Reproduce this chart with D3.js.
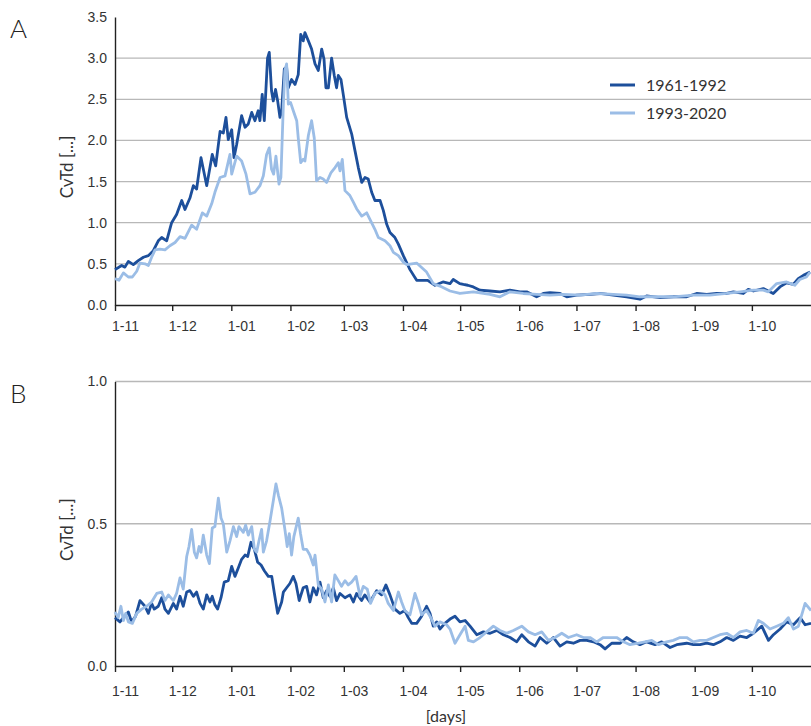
<!DOCTYPE html>
<html>
<head>
<meta charset="utf-8">
<title>CvTd</title>
<script src="https://d3js.org/d3.v7.min.js"></script>
<style>
    body { margin: 0; background: white; }
    svg { display: block; font-family: Lato, "Open Sans", sans-serif; }
    .tick text { fill: #333; font-size: 14px; }
    .grid line { stroke: #b8b8b8; stroke-width: 1.3; }
</style>
</head>
<body>
<svg width="811" height="726"></svg>
<script>
// day of season (0 = 1 November), value
var monthDays = [0, 30, 61, 92, 120, 151, 181, 212, 242, 273, 304, 334];
var monthLabels = ["1-11", "1-12", "1-01", "1-02", "1-03", "1-04", "1-05", "1-06", "1-07", "1-08", "1-09", "1-10"];
var seriesNames = ["1961-1992", "1993-2020"];
var ticksA = [0, 0.5, 1, 1.5, 2, 2.5, 3, 3.5];
var ticksB = [0, 0.5, 1];

var darkA = [[0,0.43],[3.5,0.48],[5.2,0.46],[7,0.53],[9.6,0.49],[12.2,0.54],[14.9,0.58],[17.5,0.6],[20.1,0.66],[22.7,0.78],[24.5,0.82],[27.1,0.78],[29.7,1.0],[32.3,1.1],[35,1.27],[36.7,1.16],[39.3,1.3],[41.1,1.45],[42.8,1.41],[45.1,1.79],[48.1,1.45],[51,1.83],[52.8,1.69],[55.1,2.11],[56.8,2.09],[58.2,2.28],[59.4,2.01],[61.2,2.13],[62.4,1.79],[63.8,1.95],[66.4,2.3],[68.2,2.16],[69.9,2.2],[71.7,2.34],[73.4,2.24],[75.1,2.36],[76,2.24],[77.2,2.56],[78.3,2.24],[80,3.0],[80.9,3.07],[82.1,2.6],[83,2.48],[84.2,2.62],[85.3,2.48],[86.5,2.28],[87.4,2.36],[88.8,2.87],[90,2.89],[90.9,2.64],[92.6,2.74],[94.4,2.68],[96.1,2.8],[97.4,3.29],[98.7,3.21],[99.6,3.31],[101.4,3.21],[103.1,3.11],[104.9,2.93],[106.6,2.85],[108.4,3.11],[109.6,2.99],[110.6,2.64],[111.9,2.64],[113.6,3.0],[115,2.79],[116.2,2.64],[117.1,2.79],[118.5,2.74],[119.7,2.56],[121.5,2.28],[124.1,2.08],[125.9,1.87],[127.6,1.67],[129.4,1.49],[131.1,1.55],[132.8,1.53],[134.6,1.37],[136.3,1.27],[139,1.27],[140.7,1.15],[142.5,0.98],[144.2,0.88],[146.8,0.82],[148.6,0.74],[151.2,0.6],[154.7,0.43],[158.2,0.3],[164,0.3],[167.8,0.24],[172,0.28],[175.7,0.26],[177.4,0.31],[180.8,0.26],[182.7,0.25],[185,0.24],[187.9,0.22],[191.4,0.18],[196.6,0.17],[201.9,0.16],[207.1,0.18],[212.4,0.16],[215.9,0.16],[221.1,0.1],[224.6,0.14],[228.1,0.15],[233.4,0.14],[236.9,0.1],[242.1,0.12],[249.1,0.13],[254.3,0.14],[261.3,0.12],[268.3,0.1],[275.3,0.07],[278.8,0.11],[285.8,0.09],[292.8,0.1],[299.8,0.1],[305,0.14],[310.3,0.13],[315.5,0.14],[320.8,0.14],[324.3,0.16],[329.5,0.14],[332.1,0.19],[334.8,0.17],[340,0.2],[345.2,0.14],[348.7,0.22],[352.2,0.27],[355.7,0.25],[358.3,0.32],[361,0.36],[364.5,0.4]];

var lightA = [[0,0.32],[2.1,0.3],[4.4,0.39],[7,0.34],[9.1,0.34],[11.4,0.41],[13.1,0.51],[15.7,0.5],[17.5,0.48],[19.2,0.58],[21,0.67],[23.6,0.68],[26.2,0.67],[28.8,0.72],[31.5,0.76],[34.1,0.83],[36.7,0.81],[40.2,0.97],[42.8,0.92],[45.8,1.12],[48.1,1.08],[50.7,1.23],[52.4,1.37],[55.1,1.55],[57.7,1.57],[60.3,1.83],[61.2,1.59],[63.8,1.81],[66.4,1.75],[68.7,1.59],[70.8,1.35],[73.4,1.37],[76,1.45],[77.8,1.57],[79.5,1.83],[80.9,1.91],[82.1,1.65],[83.2,1.59],[84.4,1.81],[86,1.47],[87,1.55],[88.3,2.44],[89.1,2.85],[90,2.93],[90.9,2.44],[92.1,2.46],[93.5,2.36],[95.3,2.24],[96.1,2.03],[97.4,1.73],[98.7,1.77],[99.6,1.75],[101.4,2.06],[103.1,2.24],[104.5,2.03],[105.7,1.51],[107.5,1.55],[109.2,1.53],[111,1.49],[113.3,1.61],[115.4,1.67],[117.1,1.73],[118,1.63],[119.2,1.77],[120.6,1.39],[123.2,1.33],[125,1.25],[126.7,1.17],[129.4,1.08],[132,1.12],[133.7,1.04],[136.3,0.92],[138.1,0.82],[141.6,0.78],[144.2,0.72],[146,0.64],[148.6,0.6],[151.2,0.52],[153,0.49],[158.2,0.51],[163.4,0.4],[166.9,0.26],[170.4,0.23],[175.7,0.17],[180.9,0.14],[187.9,0.16],[196.6,0.13],[201.9,0.1],[207.1,0.16],[214.1,0.14],[221.1,0.13],[228.1,0.12],[235.1,0.13],[243.9,0.12],[252.6,0.14],[261.3,0.13],[268.3,0.12],[275.3,0.1],[284,0.1],[292.8,0.1],[303.3,0.12],[312,0.12],[320.8,0.14],[327.8,0.16],[334.8,0.18],[340,0.18],[342.6,0.16],[347,0.26],[352.2,0.28],[356.5,0.24],[359.1,0.31],[362.6,0.34],[364.5,0.4]];

var darkB = [[0,0.17],[2.6,0.155],[4.4,0.17],[7,0.19],[8.7,0.155],[10.8,0.175],[13.1,0.23],[15.7,0.21],[17.5,0.185],[19.2,0.22],[20.6,0.2],[22.7,0.21],[24.5,0.24],[26.2,0.2],[28,0.185],[30.6,0.22],[32.3,0.2],[34.1,0.245],[35.8,0.21],[37.6,0.26],[39.3,0.265],[41.1,0.245],[42.8,0.26],[44.6,0.22],[46.3,0.2],[48.1,0.25],[49.8,0.225],[51,0.245],[52.4,0.215],[53.8,0.2],[55.6,0.24],[57.3,0.295],[59.4,0.3],[61.2,0.35],[62.9,0.315],[64.7,0.345],[66.4,0.375],[68.2,0.39],[69.6,0.385],[71.3,0.435],[73.1,0.41],[74.8,0.365],[76.6,0.355],[78.3,0.335],[80.4,0.315],[82.2,0.315],[83.6,0.255],[85.3,0.185],[87.4,0.225],[88.3,0.26],[90,0.275],[91.7,0.29],[93.5,0.315],[94.9,0.29],[96.6,0.23],[98.7,0.275],[100.5,0.28],[102.2,0.225],[104,0.275],[105.7,0.25],[107.5,0.295],[109.2,0.24],[111,0.265],[112.7,0.245],[114.5,0.275],[116.2,0.23],[118,0.255],[120.6,0.24],[123.2,0.25],[125,0.225],[126.7,0.255],[129.3,0.23],[131,0.25],[133.7,0.225],[137.2,0.265],[139.8,0.25],[142.1,0.285],[144.2,0.25],[146.8,0.2],[149.4,0.185],[152,0.195],[153.8,0.17],[155.6,0.15],[158.2,0.15],[160.8,0.175],[163.4,0.21],[165.2,0.185],[166.9,0.14],[168.7,0.155],[170.4,0.13],[173,0.15],[175.7,0.165],[178.3,0.175],[180.9,0.155],[183.6,0.16],[186.2,0.14],[189.7,0.11],[193.2,0.12],[196.7,0.115],[200.2,0.125],[203.7,0.11],[207.2,0.1],[210.7,0.085],[213.3,0.11],[216.8,0.085],[220.3,0.07],[222.9,0.1],[226.4,0.08],[229.9,0.1],[233.4,0.07],[236.9,0.085],[240.4,0.08],[243.9,0.09],[247.4,0.09],[250.9,0.085],[254.4,0.075],[257,0.06],[260.5,0.08],[264.9,0.08],[268.3,0.1],[271.8,0.085],[275.3,0.075],[278.8,0.085],[283.2,0.075],[286.7,0.085],[291.1,0.065],[294.6,0.075],[299.8,0.08],[303.3,0.075],[306.8,0.075],[310.3,0.08],[313.8,0.075],[317.3,0.085],[320.8,0.1],[324.3,0.09],[327.8,0.105],[331.3,0.1],[334.8,0.115],[339.2,0.14],[342.7,0.09],[345.3,0.11],[348.8,0.13],[352.3,0.155],[355.8,0.145],[359.3,0.17],[361.9,0.145],[365,0.15]];

var lightB = [[0,0.19],[1.7,0.17],[3.1,0.21],[4.4,0.16],[5.6,0.185],[7,0.155],[9.1,0.15],[11.4,0.185],[14,0.2],[16.6,0.21],[19.2,0.225],[21.9,0.255],[24.5,0.26],[26.2,0.23],[28,0.25],[30.6,0.23],[32.3,0.255],[34.1,0.31],[35.8,0.27],[37.6,0.385],[38.8,0.42],[40.2,0.48],[41.6,0.4],[42.8,0.38],[44.1,0.42],[45.1,0.4],[46.3,0.46],[48.1,0.39],[49.5,0.36],[51,0.485],[52.4,0.49],[54.2,0.59],[55.6,0.52],[56.8,0.5],[58.6,0.4],[60.3,0.44],[62.1,0.49],[63.8,0.455],[65,0.49],[67.3,0.47],[68.5,0.495],[69.9,0.46],[71.7,0.49],[73.1,0.41],[74.3,0.4],[75.5,0.44],[76.9,0.48],[77.8,0.4],[79.5,0.44],[81.3,0.51],[83,0.58],[84.4,0.64],[85.7,0.6],[87.4,0.555],[89.1,0.48],[90.3,0.42],[91.4,0.465],[92.6,0.39],[93.8,0.455],[96.1,0.52],[97.3,0.465],[98.7,0.41],[100.5,0.41],[102.2,0.39],[104,0.355],[104.9,0.39],[106.6,0.285],[108.4,0.27],[110.1,0.225],[111.9,0.285],[113.6,0.225],[115.3,0.32],[117.1,0.3],[118.8,0.28],[120.6,0.3],[122.3,0.285],[124.1,0.295],[126.4,0.315],[128.5,0.245],[130.2,0.28],[132.3,0.27],[134,0.22],[136.3,0.255],[139,0.265],[141.6,0.25],[143.3,0.22],[146,0.195],[148.6,0.26],[150.3,0.225],[152,0.195],[154.7,0.18],[157.3,0.255],[159.1,0.22],[160.8,0.18],[163.4,0.195],[165.2,0.175],[167.8,0.14],[170.4,0.155],[173.9,0.145],[175.7,0.13],[178.3,0.08],[180.9,0.11],[183.6,0.14],[185.3,0.09],[188,0.085],[191.4,0.1],[194.9,0.12],[198.4,0.14],[201.9,0.125],[205.4,0.115],[208.9,0.125],[213.3,0.14],[216.8,0.12],[220.3,0.11],[223.8,0.12],[227.3,0.09],[230.8,0.1],[234.3,0.115],[237.8,0.1],[242.1,0.11],[245.6,0.1],[249.1,0.1],[252.6,0.085],[256.1,0.1],[259.6,0.1],[263.1,0.1],[266.6,0.085],[270.1,0.075],[274.5,0.08],[278,0.085],[281.5,0.09],[285,0.075],[289.3,0.085],[292.8,0.09],[296.3,0.1],[299.8,0.1],[303.3,0.085],[306.8,0.09],[310.3,0.09],[313.8,0.1],[317.3,0.11],[320.8,0.115],[324.3,0.1],[327.8,0.12],[331.3,0.125],[334.8,0.115],[337.4,0.16],[340,0.15],[343.5,0.13],[347,0.14],[350.5,0.15],[353.1,0.17],[355.8,0.13],[358.4,0.14],[361.9,0.22],[365,0.195]];

var colors = ["#1d4f9b", "#9bbde6"];
var svg = d3.select("svg");
var xs = d3.scaleLinear().domain([0, 365]).range([115, 811]);

function drawPanel(letter, top, bottom, ymax, ticks, dark, light, labelY) {
    var ys = d3.scaleLinear().domain([0, ymax]).range([bottom, top]);

    // grid lines
    svg.append("g").attr("class", "grid")
        .selectAll("line")
        .data(ticks.filter(function(t) { return t > 0 && (ymax < 2 || t < ymax); }))
        .enter().append("line")
            .attr("x1", xs(0)).attr("x2", xs(365))
            .attr("y1", function(d) { return ys(d); })
            .attr("y2", function(d) { return ys(d); });

    // y axis
    var ya = svg.append("g")
        .attr("transform", "translate(" + xs(0) + ",0)")
        .call(d3.axisLeft(ys).tickValues(ticks).tickSize(0).tickPadding(8).tickFormat(d3.format(".1f")));
    ya.select(".domain").attr("stroke", "#222").attr("stroke-width", 1.4);

    // x axis
    var xa = svg.append("g")
        .attr("transform", "translate(0," + bottom + ")")
        .call(d3.axisBottom(xs).tickValues(monthDays).tickSize(6).tickSizeOuter(0)
            .tickFormat(function(d, i) { return monthLabels[i]; }));
    xa.select(".domain").attr("stroke", "#222").attr("stroke-width", 1.4);
    xa.selectAll(".tick line").attr("stroke", "#222").attr("stroke-width", 1.4);
    xa.selectAll(".tick text").attr("x", 10).attr("y", 0).attr("dy", null)
        .attr("transform", "translate(0," + (labelY - bottom) + ")");

    var line = d3.line()
        .x(function(d) { return xs(d[0]); })
        .y(function(d) { return ys(d[1]); });

    [dark, light].forEach(function(s, i) {
        svg.append("path")
            .datum(s)
            .attr("fill", "none")
            .attr("stroke", colors[i])
            .attr("stroke-width", 2.8)
            .attr("stroke-linejoin", "round")
            .attr("d", line);
    });

    svg.append("text")
        .attr("x", 10).attr("y", top + 21)
        .style("font-size", "26px").style("fill", "#222").style("font-weight", 300)
        .text(letter);

    svg.append("text")
        .attr("transform", "translate(73," + ((top + bottom) / 2 + 6) + ") rotate(-90)")
        .attr("text-anchor", "middle")
        .style("font-size", "17px").style("fill", "#333")
        .text("CvTd [...]");
}

drawPanel("A", 17, 305, 3.5, ticksA, darkA, lightA, 331);
drawPanel("B", 381.5, 666, 1, ticksB, darkB, lightB, 696);

// legend
seriesNames.forEach(function(n, i) {
    var ly = 85 + i * 28;
    svg.append("line")
        .attr("x1", 610).attr("x2", 635).attr("y1", ly).attr("y2", ly)
        .attr("stroke", colors[i]).attr("stroke-width", 3);
    svg.append("text")
        .attr("x", 646).attr("y", ly + 6)
        .style("font-size", "16px").style("fill", "#333")
        .text(n);
});

svg.append("text")
    .attr("x", 446).attr("y", 722)
    .attr("text-anchor", "middle")
    .style("font-size", "16px").style("fill", "#333")
    .text("[days]");
</script>
</body>
</html>
